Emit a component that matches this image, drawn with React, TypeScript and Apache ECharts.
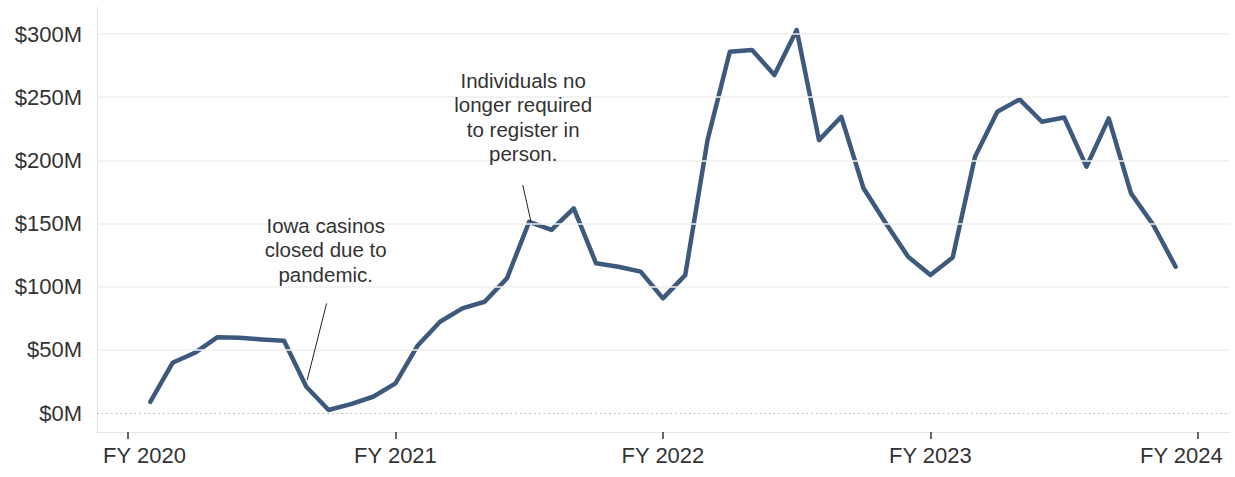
import React, { useEffect, useRef } from 'react';
import * as echarts from 'echarts';

// Monthly values ($ millions)
const months = [
  '2019-08', '2019-09', '2019-10', '2019-11', '2019-12',
  '2020-01', '2020-02', '2020-03', '2020-04', '2020-05', '2020-06', '2020-07', '2020-08', '2020-09', '2020-10', '2020-11', '2020-12',
  '2021-01', '2021-02', '2021-03', '2021-04', '2021-05', '2021-06', '2021-07', '2021-08', '2021-09', '2021-10', '2021-11', '2021-12',
  '2022-01', '2022-02', '2022-03', '2022-04', '2022-05', '2022-06', '2022-07', '2022-08', '2022-09', '2022-10', '2022-11', '2022-12',
  '2023-01', '2023-02', '2023-03', '2023-04', '2023-05', '2023-06',
];
const values = [
  8.9, 39.8, 47.7, 59.9, 59.6,
  58.3, 57.2, 20.8, 2.4, 7.1, 12.9, 23.5, 53.5, 72.3, 82.9, 88.1, 106.6,
  151.4, 144.9, 162, 118.5, 115.8, 111.9, 90.8, 109.2, 216, 286, 287.3, 267.5,
  303.2, 216, 234.5, 177.9, 150.2, 123.7, 109.2, 123.2, 202.9, 238.5, 248.3, 230.6,
  234, 195, 233.2, 173.9, 148.8, 115.8,
];
const fyTickMonths = ['2019-07', '2020-07', '2021-07', '2022-07', '2023-07'];
const fyLabels = ['FY 2020', 'FY 2021', 'FY 2022', 'FY 2023', 'FY 2024'];
const yTicks = [0, 50, 100, 150, 200, 250, 300];

const annotationTexts = [
  'Iowa casinos\nclosed due to\npandemic.',
  'Individuals no\nlonger required\nto register in\nperson.',
];

// months since July 2019 (start of FY 2020)
const monthIndex = (s: string) => {
  const [y, m] = s.split('-').map(Number);
  return (y - 2019) * 12 + (m - 7);
};

const FONT = '"Liberation Sans", Arial, sans-serif';
const TEXT = '#333333';

export default function App() {
  const ref = useRef<HTMLDivElement>(null);
  useEffect(() => {
    if (!ref.current) return;
    const chart = echarts.init(ref.current, null, { renderer: 'svg' });
    const seriesData = months.map((m, i) => [monthIndex(m), values[i]]);
    const tickVals = fyTickMonths.map(monthIndex);
    const labelFor = (v: number) => {
      const i = tickVals.indexOf(Math.round(v));
      const t = i >= 0 ? fyLabels[i] : '';
      if (i === 0) return `{l|${t}}`;
      if (i === tickVals.length - 1) return `{r|${t}}`;
      return `{c|${t}}`;
    };
    const richBase = { fontSize: 22, fontFamily: FONT, color: TEXT };
    const annLabel = (text: string) => ({
      show: true,
      position: 'inside',
      formatter: text,
      fontSize: 20.5,
      lineHeight: 24.5,
      fontFamily: FONT,
      color: TEXT,
      align: 'center',
      verticalAlign: 'middle',
    });
    chart.setOption({
      animation: false,
      backgroundColor: '#ffffff',
      grid: { left: 97, right: 5, top: 7, bottom: 45, containLabel: false },
      xAxis: {
        type: 'value',
        min: -1.39,
        max: 49.44,
        splitLine: { show: false },
        axisLine: { show: true, onZero: false, lineStyle: { color: '#e4e4e4', width: 1 } },
        axisTick: {
          show: true,
          customValues: tickVals,
          length: 7,
          lineStyle: { color: '#333333', width: 1.5 },
        },
        axisLabel: {
          customValues: tickVals,
          margin: 12,
          formatter: labelFor,
          rich: {
            l: { ...richBase, padding: [0, 0, 0, 33] },
            r: { ...richBase, padding: [0, 33, 0, 0] },
            c: { ...richBase },
          },
        },
      },
      yAxis: {
        type: 'value',
        min: -15,
        max: 321.4,
        splitLine: { show: false },
        axisLine: { show: true, onZero: false, lineStyle: { color: '#e4e4e4', width: 1 } },
        axisTick: { show: false },
        axisLabel: {
          customValues: yTicks,
          margin: 15,
          fontSize: 22,
          fontFamily: FONT,
          color: TEXT,
          formatter: (v: number) => `$${v}M`,
        },
      },
      series: [
        {
          type: 'line',
          name: 'grid',
          data: seriesData,
          symbol: 'none',
          lineStyle: { opacity: 0 },
          silent: true,
          z: 1,
          markLine: {
            silent: true,
            symbol: 'none',
            label: { show: false },
            data: [
              ...yTicks
                .filter((t) => t !== 0)
                .map((t) => ({ yAxis: t, lineStyle: { color: '#efefef', width: 1.5, type: 'solid' } })),
              { yAxis: 0, lineStyle: { color: '#b5b5b5', width: 1.2, type: [1.5, 3.2] } },
            ],
          },
        },
        {
          type: 'line',
          name: 'Revenue',
          data: seriesData,
          symbol: 'none',
          clip: false,
          z: 3,
          lineStyle: { color: '#3d5a7e', width: 4.5, join: 'round', cap: 'round' },
          markLine: {
            silent: true,
            symbol: 'none',
            label: { show: false },
            lineStyle: { color: '#222222', width: 1, type: 'solid' },
            data: [
              [{ coord: [8.91, 86.8] }, { coord: [8.04, 26.1] }],
              [{ coord: [17.71, 180.5] }, { coord: [18.08, 151.4] }],
            ],
          },
          markPoint: {
            silent: true,
            symbol: 'circle',
            symbolSize: 1,
            itemStyle: { color: 'rgba(0,0,0,0)' },
            data: [
              { coord: [8.87, 129.1], label: annLabel(annotationTexts[0]) },
              { coord: [17.73, 234.2], label: annLabel(annotationTexts[1]) },
            ],
          },
        },
      ],
    });
    return () => chart.dispose();
  }, []);
  return (
    <div
      ref={ref}
      style={{ position: 'fixed', left: 0, top: 0, width: 1235, height: 477, background: '#fff' }}
    />
  );
}
